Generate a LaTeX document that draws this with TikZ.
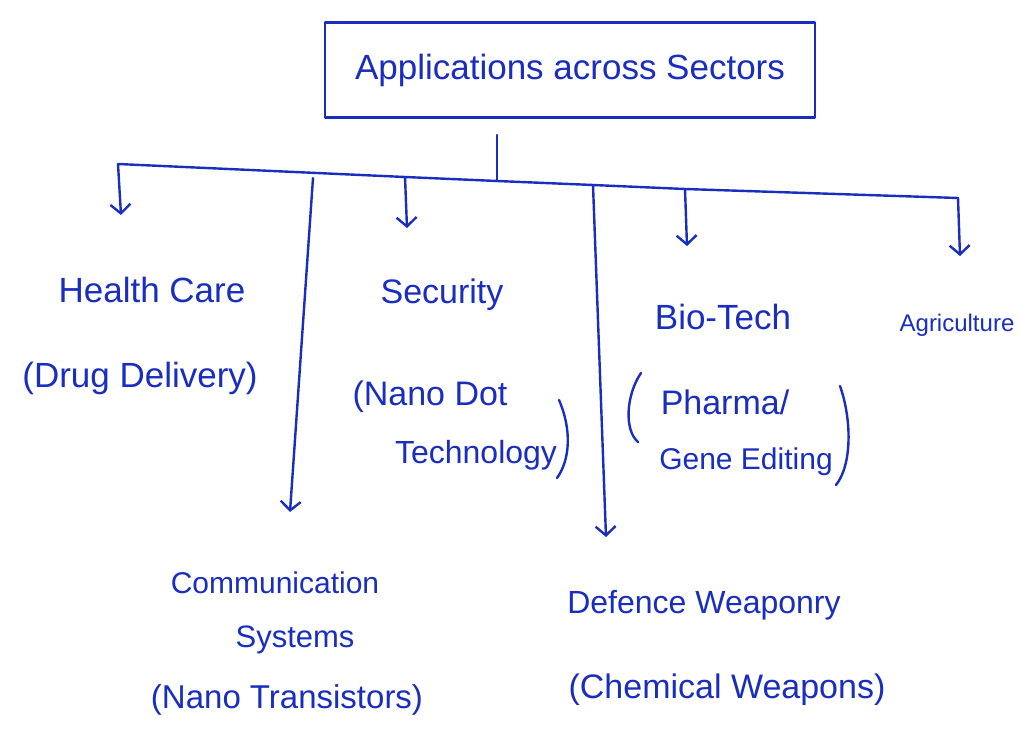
\documentclass[tikz,border=0pt]{standalone}
\usepackage{fontspec}
\setmainfont{Liberation Sans}
\usetikzlibrary{arrows.meta}
\definecolor{ink}{RGB}{25,45,190}
\tikzset{
  pen/.style={draw=ink, line width=2.4pt, line cap=round, line join=round},
  branch/.style={pen, -{Straight Barb[length=9pt,width=20pt,line width=2.4pt]}},
  lbl/.style={text=ink, font=\fontsize{#1}{#1}\selectfont, inner sep=0pt},
  lbl/.default=32,
  titlebox/.style={pen, minimum width=490pt, minimum height=95pt, inner sep=0pt,
                   text=ink, font=\fontsize{35}{40}\selectfont}
}
\begin{document}
\begin{tikzpicture}[x=1pt,y=-1pt]
  \useasboundingbox[fill=white] (0,0) rectangle (1020,738);

  % root
  \node[titlebox] (title) at (570,70) {Applications across Sectors};

  % points on the distribution bus
  \coordinate (stem) at (497,135);
  \coordinate (hc0) at (118,164);
  \coordinate (cs0) at (313,178);
  \coordinate (se0) at (405,177);
  \coordinate (st)  at (497,181);
  \coordinate (de0) at (593,185);
  \coordinate (bt0) at (685,189);
  \coordinate (ag0) at (958,198);

  % arrow ends
  \coordinate (hc1) at (121,215);
  \coordinate (cs1) at (290,512);
  \coordinate (se1) at (407,228);
  \coordinate (de1) at (606,537);
  \coordinate (bt1) at (687,246);
  \coordinate (ag1) at (960,256);

  % stem and bus
  \draw[pen] (stem) -- (st);
  \draw[pen] (hc0) -- (se0) -- (st) -- (de0) -- (bt0) -- (ag0);

  % branches
  \draw[branch] (hc0) -- (hc1);
  \draw[branch] (cs0) -- (cs1);
  \draw[branch] (se0) -- (se1);
  \draw[branch] (de0) -- (de1);
  \draw[branch] (bt0) -- (bt1);
  \draw[branch] (ag0) -- (ag1);

  % Health Care
  \node[lbl=35] (hcT) at (152,290) {Health Care};
  \node[lbl=35] (hcS) at (140,378) {(Drug Delivery)};

  % Security
  \node[lbl=34] (seT) at (442,295) {Security};
  \node[lbl=34] (seS1) at (430,397) {(Nano Dot};
  \node[lbl=32] (seS2) at (476,455) {Technology};
  \draw[pen] (559,400) .. controls (572,430) and (570,460) .. (557,478);

  % Bio-Tech
  \node[lbl=35] (btT) at (723,317) {Bio-Tech};
  \node[lbl=34] (btS1) at (725,402) {Pharma/};
  \node[lbl=30] (btS2) at (746,462) {Gene Editing};
  \draw[pen] (641,373) .. controls (626,395) and (624,430) .. (638,442);
  \draw[pen] (840,386) .. controls (852,420) and (852,465) .. (836,485);

  % Agriculture
  \node[lbl=24] (agT) at (957,325) {Agriculture};

  % Communication Systems
  \node[lbl=30] (csT1) at (275,583) {Communication};
  \node[lbl=31] (csT2) at (295,640) {Systems};
  \node[lbl=33] (csS) at (287,700) {(Nano Transistors)};

  % Defence Weaponry
  \node[lbl=32] (deT) at (704,605) {Defence Weaponry};
  \node[lbl=34] (deS) at (727,690) {(Chemical Weapons)};
\end{tikzpicture}
\end{document}
